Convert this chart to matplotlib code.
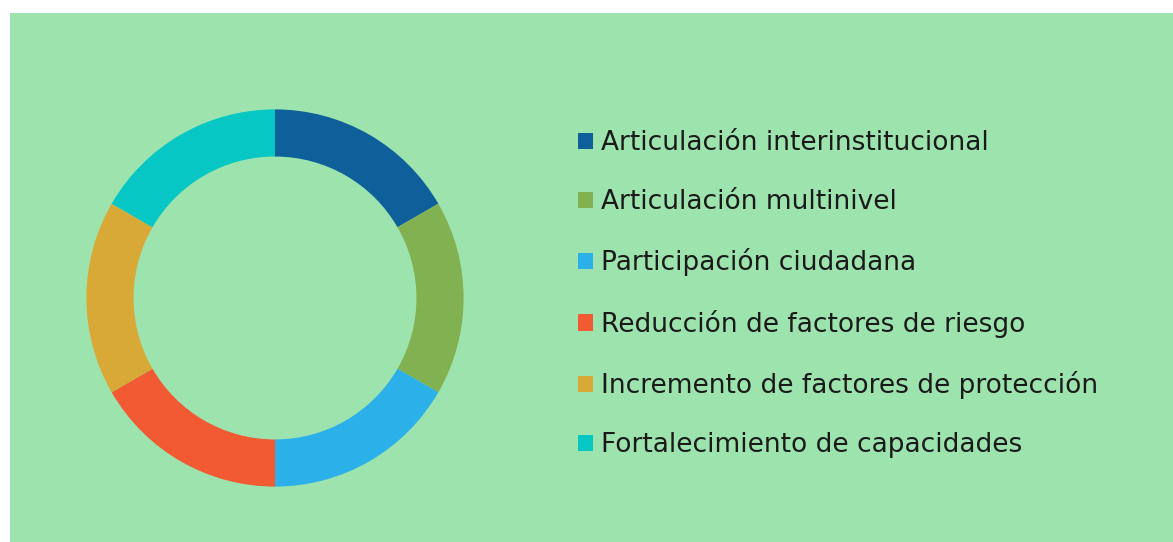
import matplotlib.pyplot as plt
from matplotlib.patches import Rectangle

labels = ['Articulación interinstitucional', 'Articulación multinivel',
          'Participación ciudadana', 'Reducción de factores de riesgo',
          'Incremento de factores de protección', 'Fortalecimiento de capacidades']
values = [1, 1, 1, 1, 1, 1]
colors = ['#0F5F9B', '#82B152', '#2BB0EA', '#F15A32', '#D9A938', '#06C7C4']
bg = '#9DE3AE'

W, H = 1173, 542
fig = plt.figure(figsize=(W / 100, H / 100), dpi=100, facecolor='white')
# green panel, white margin on left and top
fig.patches.append(Rectangle((10 / W, 0), 1, (H - 13) / H, transform=fig.transFigure,
                             facecolor=bg, edgecolor='none', zorder=-10))

cx, cy, r = 275, H - 298, 188.6
half = 192
ax = fig.add_axes([(cx - half) / W, (cy - half) / H, 2 * half / W, 2 * half / H])
ax.set_facecolor('none')
wedges, _ = ax.pie(values, colors=colors, startangle=90, counterclock=False,
                   radius=1, wedgeprops=dict(width=0.25, edgecolor='none'))
lim = half / r
ax.set_xlim(-lim, lim)
ax.set_ylim(-lim, lim)
ax.axis('off')

fs = 19
leg = fig.legend(wedges, labels, loc='upper left', bbox_to_anchor=(578 / W, 1 - 130 / H),
                 frameon=False, fontsize=fs, handlelength=0.57, handleheight=0.57,
                 handletextpad=0.32, labelspacing=1.26, borderpad=0, borderaxespad=0)
for t in leg.get_texts():
    t.set_color('#1a1a1a')

fig.savefig('out.png', dpi=100, facecolor=fig.get_facecolor())
